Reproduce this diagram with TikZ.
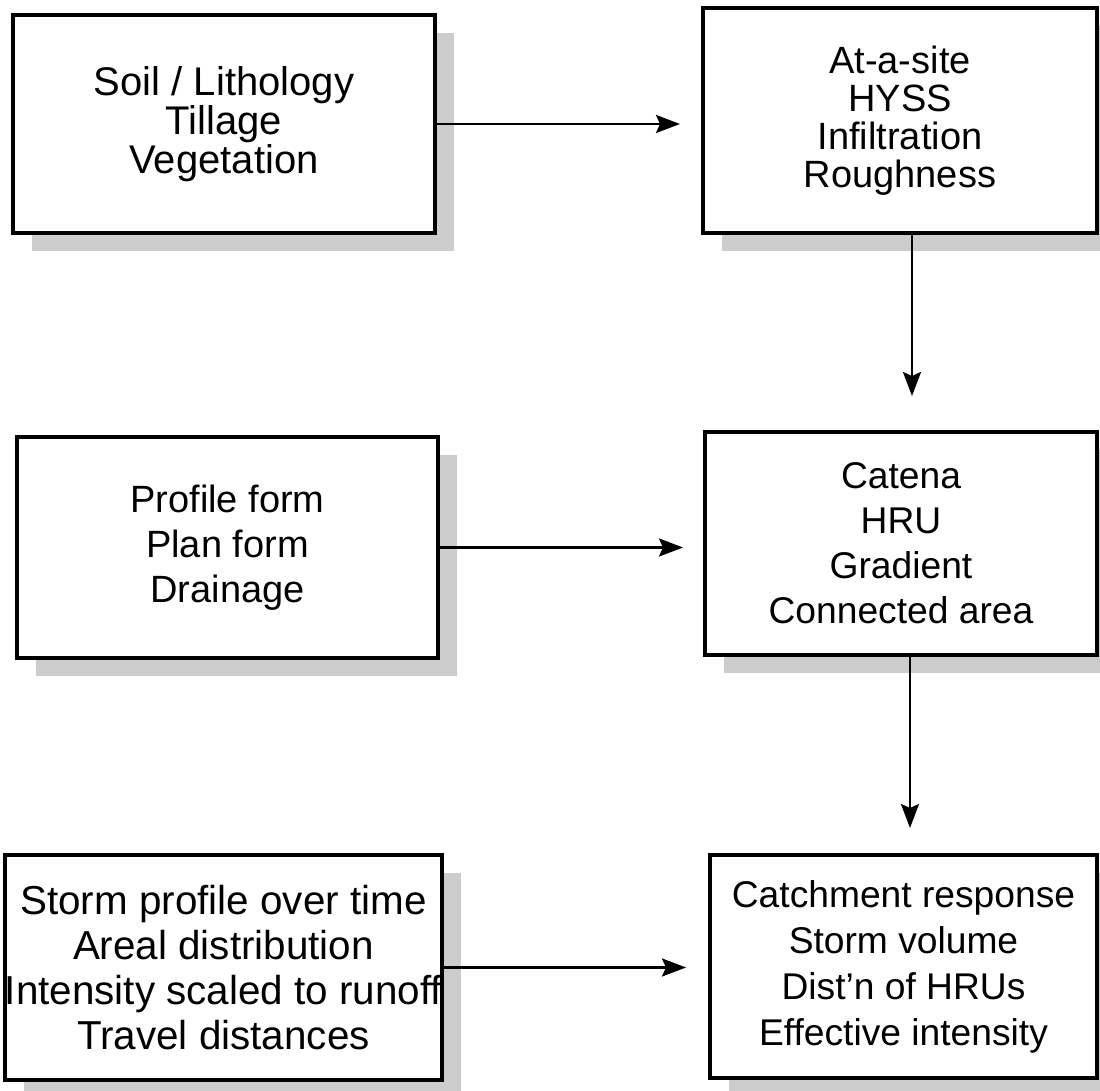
\documentclass[tikz,border=0pt]{standalone}
\usepackage{fontspec}
\setmainfont{Liberation Sans}
\usetikzlibrary{arrows.meta,shadows}

\begin{document}
\begin{tikzpicture}[x=0.5pt,y=-0.5pt,
        box/.style={draw,line width=2pt,fill=white,align=center,inner sep=0pt,
            drop shadow={shadow xshift=9.5pt,shadow yshift=-9pt,fill=black!20,opacity=1}},
        flow/.style={line width=1.2pt,-{Stealth[length=12pt,width=9pt,inset=2pt]}}]
        \useasboundingbox (0,0) rectangle (1100,1091);
        \clip (0,0) rectangle (1100,1091);

        \node[box,minimum width=211pt,minimum height=109pt,font=\fontsize{20}{18}\selectfont] (soil) at (224,124) {Soil / Lithology\\Tillage\\Vegetation};
        \node[box,minimum width=197pt,minimum height=112.5pt,font=\fontsize{19}{19}\selectfont] (site) at (900,120.5) {At-a-site\\HYSS\\Infiltration\\Roughness};

        \node[box,minimum width=210.5pt,minimum height=110.5pt,font=\fontsize{19}{22.5}\selectfont] (profile) at (227.5,547.5) {Profile form\\Plan form\\Drainage};
        \node[box,minimum width=196pt,minimum height=111.5pt,font=\fontsize{18.6}{22.5}\selectfont] (catena) at (901,543.5) {Catena\\HRU\\Gradient\\Connected area};

        \node[box,minimum width=218.5pt,minimum height=112.5pt,font=\fontsize{20.2}{22.5}\selectfont] (storm) at (223.5,967.5) {Storm profile over time\\Areal distribution\\Intensity scaled to runoff\\Travel distances};
        \node[box,minimum width=193.5pt,minimum height=111.5pt,font=\fontsize{18.6}{23}\selectfont] (catch) at (903.5,966.5) {Catchment response\\Storm volume\\Dist'n of HRUs\\Effective intensity};

        \draw[flow,shorten >=10.5pt] (soil.east) -- (soil.east -| site.west);
        \draw[flow,shorten >=17pt] ([xshift=6pt]site.south) -- ([xshift=5.5pt]catena.north);
        \draw[flow,shorten >=10pt] (profile.east) -- (profile.east -| catena.west);
        \draw[flow,shorten >=12.5pt] ([xshift=4.5pt]catena.south) -- ([xshift=4.5pt]catena.south |- catch.north);
        \draw[flow,shorten >=11pt] (storm.east) -- (storm.east -| catch.west);
    \end{tikzpicture}
\end{document}
